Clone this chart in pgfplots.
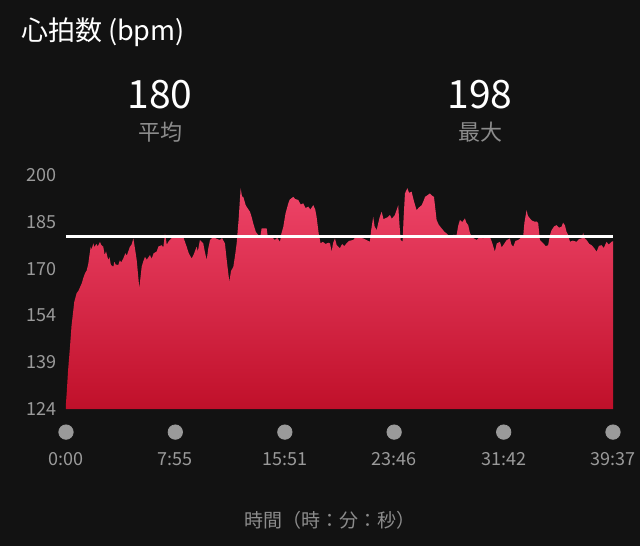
\documentclass[border=0pt]{standalone}
\usepackage{pgfplots}
\pgfplotsset{compat=1.18}
\usepackage{fontspec}
\setmainfont{Noto Sans CJK JP}
\definecolor{bg}{HTML}{121212}
\definecolor{tickgray}{HTML}{9A9A9A}
\definecolor{subgray}{HTML}{8C8C8C}
\definecolor{hrtop}{HTML}{EE4468}
\definecolor{hrbot}{HTML}{C0102A}
\begin{document}
\begin{tikzpicture}
\fill[bg] (-33pt,-68.5pt) rectangle (287pt,204.5pt);
\path[use as bounding box] (-33pt,-68.5pt) rectangle (287pt,204.5pt);
% header
\node[anchor=west,text=white,font=\fontsize{13.5}{15}\selectfont] at (-26pt,188.5pt) {心拍数 (bpm)};
\node[text=white,font=\fontsize{19.5}{22}\selectfont] at (47pt,157pt) {180};
\node[text=subgray,font=\fontsize{11}{13}\selectfont] at (47pt,138.5pt) {平均};
\node[text=white,font=\fontsize{19.5}{22}\selectfont] at (207pt,157pt) {198};
\node[text=subgray,font=\fontsize{11}{13}\selectfont] at (207pt,138.5pt) {最大};
\node[text=subgray,font=\fontsize{9.5}{11}\selectfont] at (132pt,-55.5pt) {時間（時：分：秒）};
\begin{axis}[
  scale only axis,
  width=273.5pt, height=117pt,
  xmin=0, xmax=39.617,
  ymin=124, ymax=200,
  clip=false,
  axis line style={draw=none},
  major tick length=0pt,
  xtick={0,7.9167,15.85,23.767,31.7,39.617},
  xticklabels={0:00,7:55,15:51,23:46,31:42,39:37},
  ytick={124,139.2,154.4,169.6,184.8,200},
  yticklabels={124,139,154,170,185,200},
  tick label style={text=tickgray,font=\fontsize{9}{10}\selectfont},
  xticklabel style={anchor=center,yshift=-25pt},
  yticklabel style={anchor=east,xshift=-1pt},
]
% heart rate area
\addplot[draw=none, top color=hrtop, bottom color=hrbot] coordinates {
(0,124) (0,126) (0.05,129.1) (0.15,136.5) (0.29,144.2) (0.4,151.0) (0.53,156.1)
(0.6,158.8) (0.77,161.6) (0.9,162.4) (1.14,164.8) (1.25,166.5) (1.38,168.1)
(1.5,169.0) (1.62,171.3) (1.7,174.0) (1.79,176.7) (1.85,175.8) (1.98,177.8)
(2.05,176.6) (2.2,177.6) (2.3,176.8) (2.46,178.3) (2.55,177.3) (2.70,176.7)
(2.8,174.0) (2.9,175.2) (3.06,172.4) (3.15,173.3) (3.25,170.8) (3.43,170.2)
(3.5,171.8) (3.6,170.9) (3.79,170.8) (3.9,172.3) (4.0,171.6) (4.15,172.9)
(4.3,174.6) (4.4,173.8) (4.63,176.7) (4.75,177.4) (4.88,179.4) (5.0,176.0)
(5.12,172.4) (5.31,163.2) (5.48,170.2) (5.6,172.0) (5.72,173.4) (5.85,172.5)
(6.08,174.0) (6.2,172.8) (6.35,174.6) (6.56,175.1) (6.7,176.8) (6.93,177.2)
(7.05,176.5) (7.17,181.0) (7.3,177.4) (7.41,178.3) (7.6,179.3) (7.77,179.9)
(8.01,180.5) (8.2,179.5) (8.49,179.9) (8.6,178.5) (8.74,176.7) (8.9,174.5)
(9.10,172.9) (9.25,174.2) (9.46,176.7) (9.55,175.2) (9.70,178.9) (9.94,177.8)
(10.05,175.2) (10.19,172.4) (10.3,176.0) (10.43,178.9) (10.67,179.9) (10.9,179.3)
(11.15,178.9) (11.3,179.5) (11.51,177.8) (11.65,172.0) (11.83,165.3) (11.95,168.8)
(12.12,170.2) (12.25,174.0) (12.36,177.8) (12.50,185.4) (12.65,195.7) (12.75,193.0)
(12.84,192.9) (13.0,190.4) (13.08,189.7) (13.32,188.1) (13.45,186.3) (13.56,184.3)
(13.75,181.5) (13.93,180.5) (14.05,179.3) (14.17,182.7) (14.53,182.7) (14.6,180.4)
(14.77,179.4) (14.9,179.9) (15.13,178.9) (15.3,179.6) (15.50,178.3) (15.6,181.0)
(15.74,183.2) (15.9,187.5) (16.10,190.8) (16.2,192.0) (16.46,192.9) (16.6,192.2)
(16.82,191.9) (17.0,190.4) (17.18,190.8) (17.35,189.3) (17.55,189.7) (17.7,188.8)
(17.91,190.2) (18.05,188.8) (18.15,186.4) (18.3,181.0) (18.44,177.8) (18.6,178.3)
(18.8,177.6) (19.0,178.0) (19.12,177.8) (19.24,175.1) (19.35,178.0) (19.48,179.4)
(19.6,177.3) (19.84,176.2) (20.0,177.6) (20.15,176.9) (20.32,177.8) (20.5,178.6)
(20.80,178.9) (21.05,180.2) (21.3,179.6) (21.53,179.4) (21.75,178.9) (22.01,178.3)
(22.1,182.0) (22.25,186.4) (22.35,183.3) (22.50,182.1) (22.7,186.0) (22.86,188.1)
(23.0,185.6) (23.10,185.9) (23.3,186.3) (23.46,187.0) (23.6,185.8) (23.82,187.0)
(24.06,190.2) (24.15,184.0) (24.24,178.9) (24.38,178.3) (24.45,186.0) (24.55,194.0)
(24.72,195.7) (24.85,194.2) (25.03,194.6) (25.2,191.5) (25.39,188.6) (25.55,189.4)
(25.76,190.2) (25.9,191.6) (26.00,192.9) (26.2,193.5) (26.36,194.0) (26.5,193.3)
(26.65,192.9) (26.75,189.0) (26.84,185.4) (27.0,183.8) (27.20,182.7) (27.4,181.6)
(27.57,181.0) (27.81,179.9) (28.05,180.6) (28.29,180.5) (28.4,183.4) (28.53,185.4)
(28.7,184.7) (28.89,185.9) (29.0,184.5) (29.13,183.7) (29.25,181.3) (29.38,179.9)
(29.55,179.4) (29.74,178.9) (29.95,179.8) (30.22,179.4) (30.45,180.2) (30.70,179.9)
(30.85,178.2) (31.06,175.1) (31.2,177.8) (31.43,178.3) (31.55,176.5) (31.67,177.2)
(31.9,178.8) (32.15,179.4) (32.25,177.5) (32.39,176.7) (32.55,178.6) (32.75,178.9)
(32.95,179.6) (33.11,179.9) (33.2,184.5) (33.36,188.6) (33.45,186.8) (33.60,185.9)
(33.75,185.2) (33.96,184.8) (34.1,184.9) (34.20,184.3) (34.32,178.9) (34.45,178.3)
(34.56,177.8) (34.75,176.9) (34.92,177.2) (35.05,180.5) (35.17,182.1) (35.35,183.3)
(35.53,183.7) (35.7,182.9) (35.89,183.2) (36.0,184.5) (36.13,183.7) (36.25,181.6)
(36.37,180.5) (36.50,178.3) (36.7,178.7) (36.98,178.3) (37.15,179.2) (37.34,179.4)
(37.46,181.2) (37.55,179.5) (37.70,178.9) (37.9,177.6) (38.07,177.2) (38.25,176.3)
(38.43,175.1) (38.6,177.0) (38.79,177.2) (38.95,176.3) (39.15,178.3) (39.3,177.4)
(39.51,178.3) (39.617,178.5) (39.617,124)
} -- cycle;
% average line
\addplot[white, line width=1.5pt] coordinates {(0,180) (39.617,180)};
% tick dots
\addplot[only marks, mark=*, mark size=3.6pt, color=tickgray] coordinates {
(0,116.5) (7.9167,116.5) (15.85,116.5) (23.767,116.5) (31.7,116.5) (39.617,116.5)};
\end{axis}
\end{tikzpicture}
\end{document}
